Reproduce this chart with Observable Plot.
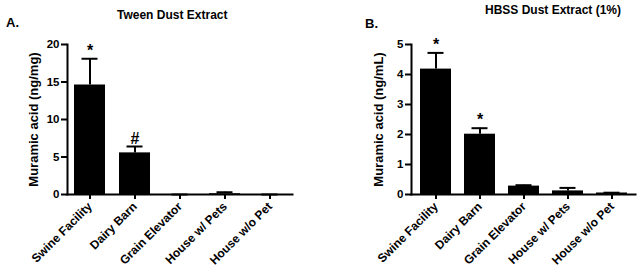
<!DOCTYPE html>
<html>
<head>
<meta charset="utf-8">
<script src="https://cdn.jsdelivr.net/npm/d3@7"></script>
<script src="https://cdn.jsdelivr.net/npm/@observablehq/plot@0.6"></script>
<style>
  html, body { margin: 0; padding: 0; background: #fff; }
  #wrap { position: relative; width: 641px; height: 267px; font-family: "Liberation Sans", Arial, sans-serif; font-weight: bold; color: #000; }
  .panel { position: absolute; top: 0; }
  .title { position: absolute; font-size: 12px; white-space: nowrap; line-height: 1; }
  .letter { position: absolute; font-size: 13px; line-height: 1; }
  #wrap svg g[aria-label="x-axis tick label"] text { font-size: 12px; }
  #wrap svg g[aria-label="y-axis tick label"] text { font-size: 11.5px; }
  #wrap svg g[aria-label="y-axis label"] text { font-size: 13px; }
</style>
</head>
<body>
<div id="wrap">
  <div class="panel" id="pa" style="left:0px"></div>
  <div class="panel" id="pb" style="left:320px"></div>
  <div class="letter" style="left:6px; top:16px">A.</div>
  <div class="title" style="left:117px; top:9px">Tween Dust Extract</div>
  <div class="letter" style="left:365px; top:17px">B.</div>
  <div class="title" style="left:485px; top:4px">HBSS Dust Extract (1%)</div>
</div>
<script>
const categories = ["Swine Facility", "Dairy Barn", "Grain Elevator", "House w/ Pets", "House w/o Pet"];

const tweenMean = [14.6, 5.55, 0, 0.1, 0];
const tweenErrTop = [18.1, 6.4, 0, 0.3, 0];
const tweenSig = ["*", "#", "", "", ""];
const tweenTicks = [0, 5, 10, 15, 20];

const hbssMean = [4.18, 2.01, 0.28, 0.12, 0.05];
const hbssErrTop = [4.72, 2.21, 0.31, 0.22, 0.06];
const hbssSig = ["*", "*", "", "", ""];
const hbssTicks = [0, 1, 2, 3, 4, 5];

function panel({means, errs, sig, ticks, label, width, marginLeft, marginRight, labelOffset}) {
  const data = categories.map((c, i) => ({cat: c, v: means[i], e: errs[i], s: sig[i]}));
  return Plot.plot({
    width,
    height: 267,
    marginLeft,
    marginRight,
    marginTop: 44,
    marginBottom: 73,
    style: {fontFamily: '"Liberation Sans", Arial, sans-serif', fontWeight: "bold", fontSize: "11px", color: "#000", background: "transparent"},
    x: {type: "band", domain: categories, paddingInner: 0.3, paddingOuter: 0.15},
    y: {domain: [ticks[0], ticks[ticks.length - 1]]},
    marks: [
      Plot.barY(data, {x: "cat", y: "v", fill: "black"}),
      Plot.ruleX(data, {x: "cat", y1: "v", y2: "e", stroke: "black", strokeWidth: 2}),
      Plot.tickY(data, {x: "cat", y: "e", stroke: "black", strokeWidth: 2, insetLeft: 7.5, insetRight: 7.5}),
      Plot.text(data, {x: "cat", y: "e", text: "s", dy: -3, lineAnchor: "bottom", fontSize: 16, fontWeight: "bold", fill: "black"}),
      Plot.axisY({ticks, tickFormat: d3.format("d"), tickSize: 6, tickPadding: 2, strokeWidth: 2, label, labelAnchor: "center", labelArrow: "none", labelOffset}),
      Plot.axisX({tickRotate: -45, tickSize: 5, tickPadding: 5, strokeWidth: 2, label: null}),
      Plot.frame({anchor: "left", stroke: "black", strokeWidth: 2}),
      Plot.frame({anchor: "bottom", stroke: "black", strokeWidth: 2})
    ]
  });
}

const a = panel({means: tweenMean, errs: tweenErrTop, sig: tweenSig, ticks: tweenTicks,
  label: "Muramic acid (ng/mg)", width: 320, marginLeft: 67, marginRight: 28, labelOffset: 39});
const b = panel({means: hbssMean, errs: hbssErrTop, sig: hbssSig, ticks: hbssTicks,
  label: "Muramic acid (ng/mL)", width: 321, marginLeft: 91, marginRight: 6, labelOffset: 38});

document.getElementById("pa").appendChild(a);
document.getElementById("pb").appendChild(b);
</script>
</body>
</html>
